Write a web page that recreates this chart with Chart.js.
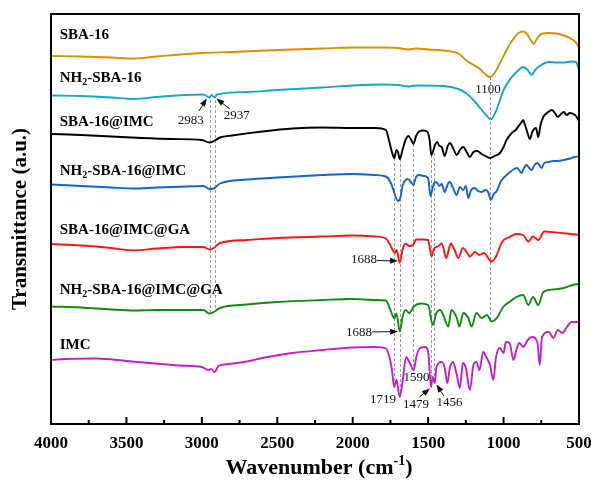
<!DOCTYPE html>
<html><head><meta charset="utf-8">
<script src="https://cdn.jsdelivr.net/npm/chart.js@4/dist/chart.umd.min.js"></script>
<style>html,body{margin:0;padding:0;background:#fff}</style>
</head><body>
<canvas id="c" width="591" height="484"></canvas>
<script>
// ---- Data (wavenumber in cm-1, transmittance in arbitrary offset units) ----
const xTicks = [4000, 3500, 3000, 2500, 2000, 1500, 1000, 500];

const sba16Wn = [4000,3800,3600,3450,3300,3000,2800,2500,2200,2000,1800,1700,1630,1580,1500,1400,1300,1250,1200,1160,1130,1090,1060,1020,980,940,900,870,850,820,800,780,750,700,650,600,560,530,500];
const sba16T  = [368,367.5,366.5,365.5,367.5,371,372,374,375.5,376.5,376.5,376,374.5,375.5,374.5,373.5,370.5,364,359,355.5,351,347,351,362,374,384,391,392.5,391,384,380,385,390,391,390.5,388.5,386,383,377];

const nh2Wn = [4000,3800,3600,3450,3300,3100,2990,2950,2935,2915,2900,2700,2500,2200,2000,1800,1700,1630,1580,1400,1300,1250,1200,1150,1110,1085,1050,1000,950,900,870,840,815,790,760,700,650,600,550,520,500];
const nh2T  = [328.5,328,326.5,325,327,329,329.5,326.5,329,326.5,329.5,332,334,336.5,338.5,339.5,339,337.5,338.5,338,335,331,324,315,308,304.5,313,334,346,354,357,354,349,354,358,362,361.5,361.5,362.5,362,354];

const sbaImcWn = [4000,3800,3600,3400,3200,3000,2950,2920,2880,2800,2600,2400,2200,2000,1850,1780,1760,1740,1725,1710,1700,1688,1670,1650,1630,1612,1598,1580,1560,1530,1505,1490,1479,1465,1455,1440,1425,1410,1390,1370,1356,1335,1310,1290,1267,1245,1223,1200,1175,1145,1120,1090,1060,1024,1000,980,946,920,900,880,870,860,847,825,810,785,770,755,737,720,704,680,660,640,626,600,582,560,538,520,500];
const sbaImcT  = [290,289,287.5,286,285,284,281.5,283,286.5,288.5,292.5,295.5,296.5,296,296,294,284,272,266,274,272,265,274,284,288,284,280,288,292.5,293.5,292,284,269,274,279,282,278,277,268,278,281,276,269,274,277,272,267,272,273,270,268,266,268,271,277,284,291,294,298,302,304,300,294,285,292,296,287,299,307,310,312,314,311,307,309,312,309,311,310,308,303];

const nh2ImcWn = [4000,3800,3600,3450,3300,3100,2990,2950,2920,2880,2700,2500,2200,2000,1850,1780,1750,1730,1715,1700,1685,1670,1655,1635,1615,1598,1580,1560,1530,1500,1485,1470,1455,1440,1425,1410,1390,1370,1356,1335,1311,1290,1267,1250,1234,1215,1190,1170,1145,1120,1100,1085,1065,1045,1020,1000,980,957,930,910,880,865,847,830,814,795,775,748,730,700,670,640,600,560,530,500];
const nh2ImcT  = [239.5,238,236.5,235.5,236.5,237.5,238,235,235.5,240.5,244.5,246.5,249,250,249,247.5,242,234,227,223,226,238,243,245,242,239,247,249,248,246,228,236,242,241,238,240,232,240,242,236,229,237,234,238,226,234,236,233,232,234,231,224,230,233,242,246,249,252,255,256,251,256,259,256,254,259,261,256,261,262,263,263,264,265.5,267,267.5];

const sbaGaWn = [4000,3800,3600,3450,3300,3100,2990,2950,2920,2880,2700,2500,2200,2000,1850,1780,1755,1735,1720,1710,1688,1670,1650,1625,1600,1580,1530,1500,1478,1460,1430,1410,1380,1350,1325,1300,1270,1245,1223,1190,1160,1130,1080,1050,1010,960,915,870,836,805,770,730,650,580,500];
const sbaGaT  = [180,178.5,176,173.5,175.5,177,177,174.5,176,181,184,186,187.5,188.5,187.5,185.5,180,174,171,174,161.5,174,180.5,178,179,184.5,184.5,184,167.5,175.5,178,180.5,166,180.5,174,166,176,172,167.5,172,169,171,162.5,167.5,182,187,190,189,182.5,187.5,184,192.5,191.5,190.5,189];

const nh2GaWn = [4000,3800,3600,3450,3300,3100,2990,2950,2920,2880,2700,2500,2200,2000,1850,1780,1755,1735,1725,1710,1688,1670,1650,1625,1595,1550,1500,1470,1445,1420,1400,1367,1345,1310,1293,1267,1234,1212,1180,1145,1110,1079,1045,1000,957,915,870,836,805,770,737,670,600,540,500];
const nh2GaT  = [117.5,116.5,114.5,113.5,114,114,114,110.5,112,116,119.5,122,124,125,124,123.5,116,108,105.5,110.5,92.5,107,114,111,117.5,120.5,119,99,111,114,109,97.5,114,106,97.5,111,106,97.5,111,106,109,102.5,106,117.5,122.5,127,129,119,127,119,132,134.5,136,139,140];

const imcWn = [4000,3900,3700,3500,3350,3150,3000,2955,2940,2915,2890,2820,2700,2600,2400,2200,2000,1850,1780,1755,1740,1725,1710,1688,1670,1645,1625,1595,1580,1555,1520,1500,1481,1470,1456,1445,1410,1390,1373,1355,1335,1310,1290,1270,1250,1223,1200,1180,1160,1135,1115,1090,1068,1050,1025,1000,985,960,935,915,895,870,840,810,775,760,745,700,670,640,610,580,550,500];
const imcT  = [64,65,65.5,63,61,58.5,57,54,55,52,58,60,62.5,66,71,74,76.5,77,75.5,66,54,37,44,27,42,67,62,54,66,76,77,72.5,37,47,41,57,62,56,41,57,62,49,36,61,56,34,59,62,54,72,67,59,44,67,76,71,82,81,64,74,81,77,84,87,81,59,87,92,86,94,91,97,102,102];

const seriesNames  = ["SBA-16", "NH2-SBA-16", "SBA-16@IMC", "NH2-SBA-16@IMC", "SBA-16@IMC@GA", "NH2-SBA-16@IMC@GA", "IMC"];
const seriesColors = ["#DB8F00", "#16A6C9", "#000000", "#1462D6", "#FF1414", "#108A10", "#C81EC8"];
const seriesWn = [sba16Wn, nh2Wn, sbaImcWn, nh2ImcWn, sbaGaWn, nh2GaWn, imcWn];
const seriesT  = [sba16T, nh2T, sbaImcT, nh2ImcT, sbaGaT, nh2GaT, imcT];

// label anchors (wavenumber, a.u.)
const nameAnchorWn = 3942;
const nameAnchorT = [389, 346, 302, 253, 194, 134, 79];

// dashed guide lines: wavenumber, from a.u., to a.u.
const guideWn   = [2947, 2916, 1725, 1688, 1598, 1481, 1460, 1088];
const guideTop  = [329, 329, 266, 265, 280, 269, 271, 347];
const guideBot  = [112, 112, 37, 27, 54, 37, 41, 102];

// peak annotations: text, wn, a.u., arrow tail wn/a.u., arrow tip wn/a.u.
const peakText = ["2983", "2937", "1100", "1688", "1688", "1719", "1590", "1479", "1456"];
const peakWn   = [3073, 2768, 1103, 1926, 1959, 1800, 1578, 1581, 1359];
const peakT    = [303, 308, 334, 164.5, 91, 24, 46, 19, 21];
const arrowFromWn = [3020, 2814, null, 1840, 1873, null, null, 1558, 1395];
const arrowFromT  = [313, 315, null, 163.5, 92, null, null, 27, 28];
const arrowToWn   = [2967, 2904, null, 1700, 1700, null, null, 1488, 1445];
const arrowToT    = [325.5, 325.5, null, 163, 92.5, null, null, 35.5, 39.5];

const SERIF = "'Liberation Serif', 'Times New Roman', serif";

const datasets = seriesNames.map((n, k) => ({
  label: n,
  data: seriesWn[k].map((w, i) => ({ x: w, y: seriesT[k][i] })),
  borderColor: seriesColors[k],
  backgroundColor: seriesColors[k],
  borderWidth: 1.9,
  pointRadius: 0,
  fill: false,
  cubicInterpolationMode: 'monotone'
}));

function drawSubText(ctx, x, y, text, size) {
  ctx.textAlign = 'left';
  ctx.textBaseline = 'middle';
  if (text.startsWith('NH2')) {
    ctx.font = `bold ${size}px ${SERIF}`;
    ctx.fillText('NH', x, y);
    let w = ctx.measureText('NH').width;
    ctx.font = `bold ${Math.round(size*0.65)}px ${SERIF}`;
    ctx.fillText('2', x + w, y + 4);
    w += ctx.measureText('2').width;
    ctx.font = `bold ${size}px ${SERIF}`;
    ctx.fillText(text.slice(3), x + w, y);
  } else {
    ctx.font = `bold ${size}px ${SERIF}`;
    ctx.fillText(text, x, y);
  }
}

function arrow(ctx, x1, y1, x2, y2) {
  const a = Math.atan2(y2 - y1, x2 - x1);
  const L = 8, W = 3;
  ctx.beginPath();
  ctx.moveTo(x1, y1);
  ctx.lineTo(x2 - L * 0.6 * Math.cos(a), y2 - L * 0.6 * Math.sin(a));
  ctx.stroke();
  ctx.beginPath();
  ctx.moveTo(x2, y2);
  ctx.lineTo(x2 - L * Math.cos(a) + W * Math.sin(a), y2 - L * Math.sin(a) - W * Math.cos(a));
  ctx.lineTo(x2 - L * Math.cos(a) - W * Math.sin(a), y2 - L * Math.sin(a) + W * Math.cos(a));
  ctx.closePath();
  ctx.fill();
}

const decor = {
  id: 'decor',
  beforeDatasetsDraw(chart) {
    const { ctx, scales: { x, y } } = chart;
    ctx.save();
    ctx.strokeStyle = '#9A9A9A';
    ctx.lineWidth = 1;
    ctx.setLineDash([3, 2]);
    guideWn.forEach((w, i) => {
      const px = Math.round(x.getPixelForValue(w)) + 0.5;
      ctx.beginPath();
      ctx.moveTo(px, y.getPixelForValue(guideTop[i]));
      ctx.lineTo(px, y.getPixelForValue(guideBot[i]));
      ctx.stroke();
    });
    ctx.restore();
  },
  afterDatasetsDraw(chart) {
    const { ctx, chartArea: a, scales: { x, y } } = chart;
    ctx.save();
    ctx.strokeStyle = '#000';
    ctx.lineWidth = 2;
    ctx.strokeRect(a.left, a.top, a.right - a.left, a.bottom - a.top);
    for (let w = 500; w <= 4000; w += 250) {
      const px = x.getPixelForValue(w);
      const len = (w % 500 === 0) ? 7 : 4;
      ctx.beginPath();
      ctx.moveTo(px, a.bottom);
      ctx.lineTo(px, a.bottom - len);
      ctx.stroke();
    }
    ctx.fillStyle = '#000';
    seriesNames.forEach((n, k) => {
      drawSubText(ctx, x.getPixelForValue(nameAnchorWn), y.getPixelForValue(nameAnchorT[k]), n, 15);
    });
    ctx.lineWidth = 1;
    ctx.fillStyle = '#111';
    ctx.strokeStyle = '#111';
    peakText.forEach((t, i) => {
      ctx.font = `13px ${SERIF}`;
      ctx.textAlign = 'center';
      ctx.textBaseline = 'middle';
      ctx.fillText(t, x.getPixelForValue(peakWn[i]), y.getPixelForValue(peakT[i]));
      if (arrowFromWn[i] !== null) {
        arrow(ctx, x.getPixelForValue(arrowFromWn[i]), y.getPixelForValue(arrowFromT[i]),
                   x.getPixelForValue(arrowToWn[i]), y.getPixelForValue(arrowToT[i]));
      }
    });
    ctx.fillStyle = '#000';
    ctx.textBaseline = 'middle';
    const cx = (a.left + a.right) / 2 + 4;
    const ty = 468;
    const big = `bold 22px ${SERIF}`, small = `bold 14px ${SERIF}`;
    ctx.font = big; const w1 = ctx.measureText('Wavenumber (cm').width; const w3 = ctx.measureText(')').width;
    ctx.font = small; const w2 = ctx.measureText('-1').width;
    let sx = cx - (w1 + w2 + w3) / 2;
    ctx.textAlign = 'left';
    ctx.font = big; ctx.fillText('Wavenumber (cm', sx, ty);
    ctx.font = small; ctx.fillText('-1', sx + w1, ty - 7);
    ctx.font = big; ctx.fillText(')', sx + w1 + w2, ty);
    ctx.translate(21, (a.top + a.bottom) / 2);
    ctx.rotate(-Math.PI / 2);
    ctx.textAlign = 'center';
    ctx.font = `bold 21px ${SERIF}`;
    ctx.fillText('Transmittance (a.u.)', 0, 0);
    ctx.restore();
  }
};

new Chart(document.getElementById('c'), {
  type: 'line',
  data: { datasets },
  options: {
    responsive: false,
    animation: false,
    devicePixelRatio: 1,
    layout: { padding: { top: 14, right: 12, left: 0, bottom: 0 } },
    plugins: { legend: { display: false }, tooltip: { enabled: false } },
    scales: {
      x: {
        type: 'linear', min: 500, max: 4000, reverse: true,
        grid: { display: false, drawTicks: false },
        border: { display: false },
        afterBuildTicks: s => { s.ticks = xTicks.map(v => ({ value: v })); },
        ticks: { color: '#000', padding: 9, maxRotation: 0, autoSkip: false,
                 callback: v => String(v),
                 font: { family: SERIF, size: 17, weight: 'bold' } },
        afterFit: s => { s.height = 60; s.paddingLeft = 0; s.paddingRight = 0; }
      },
      y: {
        type: 'linear', min: 0, max: 410,
        grid: { display: false, drawTicks: false },
        border: { display: false },
        ticks: { display: false },
        afterFit: s => { s.width = 51; }
      }
    }
  },
  plugins: [decor]
});
</script>
</body></html>
